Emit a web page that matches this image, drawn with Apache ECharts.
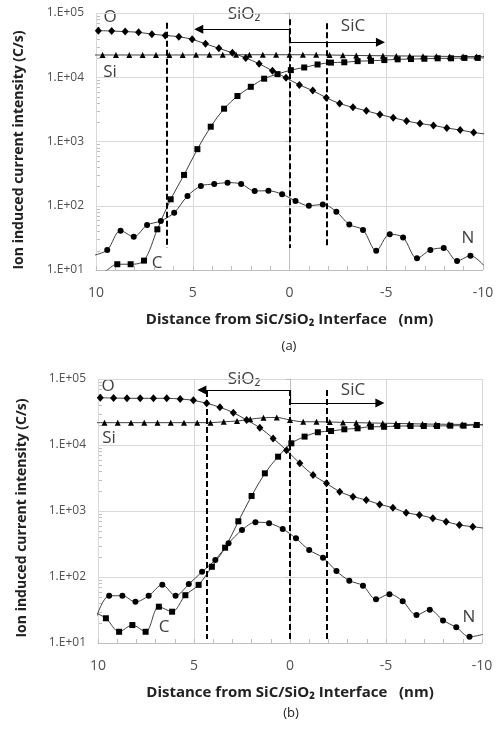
<!DOCTYPE html>
<html>
<head>
<meta charset="utf-8">
<script src="https://cdn.jsdelivr.net/npm/echarts@6/dist/echarts.min.js"></script>
<style>
  html, body { margin: 0; padding: 0; background: #fff; }
  #chart { width: 501px; height: 733px; }
</style>
</head>
<body>
<div id="chart"></div>
<script>
// depth (nm, + = SiO2 side) of the sampling points of each element
const depthSi = [10.35, 9.66, 8.97, 8.28, 7.59, 6.90, 6.21, 5.52, 4.83, 4.14, 3.45, 2.76, 2.07, 1.38, 0.69, 0,
  -0.69, -1.38, -2.07, -2.76, -3.45, -4.14, -4.83, -5.52, -6.21, -6.90, -7.59, -8.28, -8.97, -9.66, -10.35];
const depthO = [9.88, 9.19, 8.49, 7.80, 7.11, 6.42, 5.72, 5.03, 4.34, 3.65, 2.95, 2.26, 1.57, 0.88, 0.18,
  -0.51, -1.20, -1.90, -2.59, -3.28, -3.97, -4.67, -5.36, -6.05, -6.74, -7.44, -8.13, -8.82, -9.52, -10.21];
const depthC = [10.28, 9.59, 8.90, 8.21, 7.52, 6.83, 6.14, 5.45, 4.76, 4.07, 3.38, 2.69, 2.00, 1.31, 0.62,
  -0.07, -0.76, -1.45, -2.14, -2.83, -3.52, -4.21, -4.90, -5.59, -6.28, -6.97, -7.66, -8.35, -9.04, -9.73, -10.42];
const depthN = [10.10, 9.42, 8.73, 8.05, 7.36, 6.65, 5.96, 5.27, 4.58, 3.89, 3.20, 2.50, 1.80, 1.09, 0.38,
  -0.31, -1.00, -1.72, -2.42, -3.09, -3.80, -4.48, -5.18, -5.87, -6.59, -7.28, -7.97, -8.66, -9.35, -10.05];

// (a) ion induced current (C/s)
const siA = [22200, 22200, 22200, 22200, 22200, 22200, 22200, 22200, 22300, 22300, 22400, 22400, 22400, 22400, 22400, 22400,
  22400, 22300, 22200, 22000, 21800, 21700, 21600, 21500, 21400, 21300, 21200, 21100, 21000, 21000, 21000];
const oA = [53100, 52500, 51300, 50100, 46800, 44700, 42700, 38900, 33100, 28200, 24000, 20000, 16200, 12600, 9800,
  7600, 6200, 4800, 3900, 3400, 3000, 2630, 2340, 2090, 1900, 1780, 1620, 1510, 1380, 1300];
const cA = [8, 9.3, 12.3, 12.3, 14, 43, 126, 302, 760, 1700, 3240, 5100, 7100, 9500, 11200,
  12900, 14200, 15800, 16900, 17100, 17800, 18000, 18500, 19000, 19200, 19400, 19700, 19700, 20000, 20000, 20000];
const nA = [17, 20.5, 41, 33, 50, 58, 78, 142, 203, 218, 229, 218, 170, 171, 151,
  119, 100, 105, 81, 51, 42, 20, 36, 32, 15.2, 20.5, 22, 13.8, 16.7, 11.7];

// (b)
const siB = [21800, 21800, 21800, 21800, 21800, 21800, 21800, 21800, 21800, 21800, 22500, 23100, 24500, 25900, 26100, 23900,
  22500, 22500, 22300, 22000, 21800, 21600, 21400, 21200, 21000, 20800, 20700, 20600, 20500, 20500, 20400];
const oB = [52000, 51500, 51000, 51000, 51000, 51000, 49800, 47500, 42800, 37300, 30900, 23900, 18300, 12600, 8300,
  5280, 3510, 2630, 1960, 1650, 1470, 1260, 1120, 940, 870, 776, 690, 614, 578, 545];
const cB = [30, 23.7, 14.8, 18.7, 14.8, 35.5, 29.8, 53, 76, 143, 278, 698, 1690, 3720, 6650,
  10600, 13400, 15600, 16300, 17300, 17900, 18900, 18900, 19400, 19400, 19400, 19400, 19600, 19600, 20100, 20100];
const nB = [24, 52, 52, 42, 52, 76, 52, 78, 120, 181, 324, 515, 676, 652, 534,
  385, 256, 196, 123, 88, 74, 46, 55, 43, 26.5, 32, 22, 17.3, 12.4, 13.5];

// layer boundaries (nm) with their top / bottom ends, and the SiO2 / SiC arrows
const boundA = [[6.32, 70500], [0, 80000], [-1.95, 69000]];
const boundBottomA = 22;
const boundB = [[4.36, 66000], [0, 68000], [-1.9, 68000]];
const boundBottomB = 11.5;
const arrowsA = { sio2: [4.69, 56000], sic: [-4.7, 35000] };
const arrowsB = { sio2: [4.59, 68000], sic: [-4.68, 43300] };

const xTicks = [-10, -5, 0, 5, 10];
const FONT = '"Open Sans", "Noto Sans", sans-serif';
const LINE = '#404040';
const GRIDC = '#d9d9d9';
const AXC = '#bfbfbf';

const zip = (xs, ys) => xs.map((x, i) => [x, ys[i]]);

const chart = echarts.init(document.getElementById('chart'));

const grids = [
  { left: 96, top: 13, width: 387, height: 257 },
  { left: 98, top: 379, width: 384, height: 264 }
];

function xAxis(i) {
  return {
    type: 'value', gridIndex: i, inverse: true,
    min: xTicks[0], max: xTicks[xTicks.length - 1], interval: 5,
    axisLine: { show: true, lineStyle: { color: AXC } },
    axisTick: { show: true, inside: true, length: 4, lineStyle: { color: AXC } },
    minorTick: { show: true, splitNumber: 5, length: 4, lineStyle: { color: AXC } },
    splitLine: { show: true, lineStyle: { color: GRIDC } },
    axisLabel: { color: '#505050', fontSize: 14, fontFamily: FONT, margin: 16 },
    name: 'Distance from SiC/SiO\u2082 Interface   (nm)',
    nameLocation: 'middle', nameGap: 42,
    nameTextStyle: { color: '#222', fontSize: 15, fontWeight: 'bold', fontFamily: FONT }
  };
}

function yAxis(i) {
  return {
    type: 'log', gridIndex: i, logBase: 10, min: 10, max: 100000,
    axisLine: { show: true, lineStyle: { color: AXC } },
    axisTick: { show: true, inside: false, length: 4, lineStyle: { color: AXC } },
    splitLine: { show: true, lineStyle: { color: GRIDC } },
    axisLabel: {
      color: '#505050', fontSize: 12, fontFamily: FONT, margin: 12,
      formatter: v => '1.E+' + String(Math.round(Math.log10(v))).padStart(2, '0')
    }
  };
}

function lineSeries(name, g, depth, vals, symbol, size) {
  return {
    name: name, type: 'line', xAxisIndex: g, yAxisIndex: g,
    data: zip(depth, vals), smooth: 0.33, clip: true,
    symbol: symbol, symbolSize: size,
    lineStyle: { color: LINE, width: 1 },
    itemStyle: { color: '#000' },
    z: 3
  };
}

function boundaryMarks(bounds, bottom) {
  return {
    silent: true, symbol: 'none', animation: false,
    label: { show: false },
    lineStyle: { color: '#000', width: 2, type: [6, 3] },
    data: bounds.map(b => [{ coord: [b[0], b[1]] }, { coord: [b[0], bottom] }])
  };
}

function arrowMarks(ar) {
  return {
    silent: true, animation: false,
    symbol: ['none', 'triangle'], symbolSize: 9,
    label: { show: false },
    lineStyle: { color: '#000', width: 1.2, type: 'solid' },
    data: [
      [{ coord: [0, ar.sio2[1]] }, { coord: [ar.sio2[0], ar.sio2[1]] }],
      [{ coord: [0, ar.sic[1]] }, { coord: [ar.sic[0], ar.sic[1]] }],
      [{ coord: [0, ar.sio2[1]], symbol: 'none' }, { coord: [0, ar.sic[1]], symbol: 'none' }]
    ]
  };
}

const series = [];
[[0, siA, oA, cA, nA, boundA, boundBottomA, arrowsA], [1, siB, oB, cB, nB, boundB, boundBottomB, arrowsB]]
  .forEach(([g, si, o, c, n, bounds, bottom, ar]) => {
    const sSi = lineSeries('Si', g, depthSi, si, 'triangle', 6);
    sSi.markLine = arrowMarks(ar);
    const sO = lineSeries('O', g, depthO, o, 'diamond', [7, 8]);
    sO.markLine = boundaryMarks(bounds, bottom);
    series.push(sSi, sO,
      lineSeries('C', g, depthC, c, 'rect', 6),
      lineSeries('N', g, depthN, n, 'circle', 6));
  });

function label(text, x, y, opts) {
  return Object.assign({
    type: 'text', x: x, y: y, silent: true,
    style: {
      text: text, fill: '#404040', font: '17px ' + FONT,
      textAlign: 'center', textVerticalAlign: 'middle'
    }
  }, opts || {});
}

const titleStyle = t => ({ text: t, fill: '#222', font: 'bold 14px ' + FONT, textAlign: 'center', textVerticalAlign: 'middle' });
const capStyle = t => ({ text: t, fill: '#222', font: '13px ' + FONT, textAlign: 'center', textVerticalAlign: 'middle' });

const texts = [
  label('O', 110, 17), label('Si', 110, 72), label('C', 157, 263), label('N', 468, 238),
  label('SiO\u2082', 244, 14), label('SiC', 353, 26),
  label('O', 108, 386), label('Si', 109, 438), label('C', 164, 627), label('N', 469, 617),
  label('SiO\u2082', 244, 379), label('SiC', 353, 390),
  label('', 289, 346, { style: capStyle('(a)') }),
  label('', 291, 713, { style: capStyle('(b)') }),
  label('', 19, 150, { rotation: Math.PI / 2, style: titleStyle('Ion induced current intensity (C/s)') }),
  label('', 22, 518, { rotation: Math.PI / 2, style: titleStyle('Ion induced current intensity (C/s)') })
];

chart.setOption({
  animation: false,
  backgroundColor: '#fff',
  grid: grids,
  xAxis: [xAxis(0), xAxis(1)],
  yAxis: [yAxis(0), yAxis(1)],
  series: series,
  graphic: { elements: texts }
});

// log minor ticks (2..9 of each decade) on the inner side of the y axes
const minor = [];
[0, 1].forEach(g => {
  for (let e = 1; e < 5; e++) {
    for (let m = 2; m < 10; m++) {
      const p = chart.convertToPixel({ xAxisIndex: g, yAxisIndex: g }, [10, m * Math.pow(10, e)]);
      minor.push({
        type: 'line', silent: true,
        shape: { x1: p[0], y1: Math.round(p[1]) + 0.5, x2: p[0] + 4, y2: Math.round(p[1]) + 0.5 },
        style: { stroke: AXC, lineWidth: 1 }
      });
    }
  }
});
chart.setOption({ graphic: { elements: texts.concat(minor) } });
</script>
</body>
</html>
